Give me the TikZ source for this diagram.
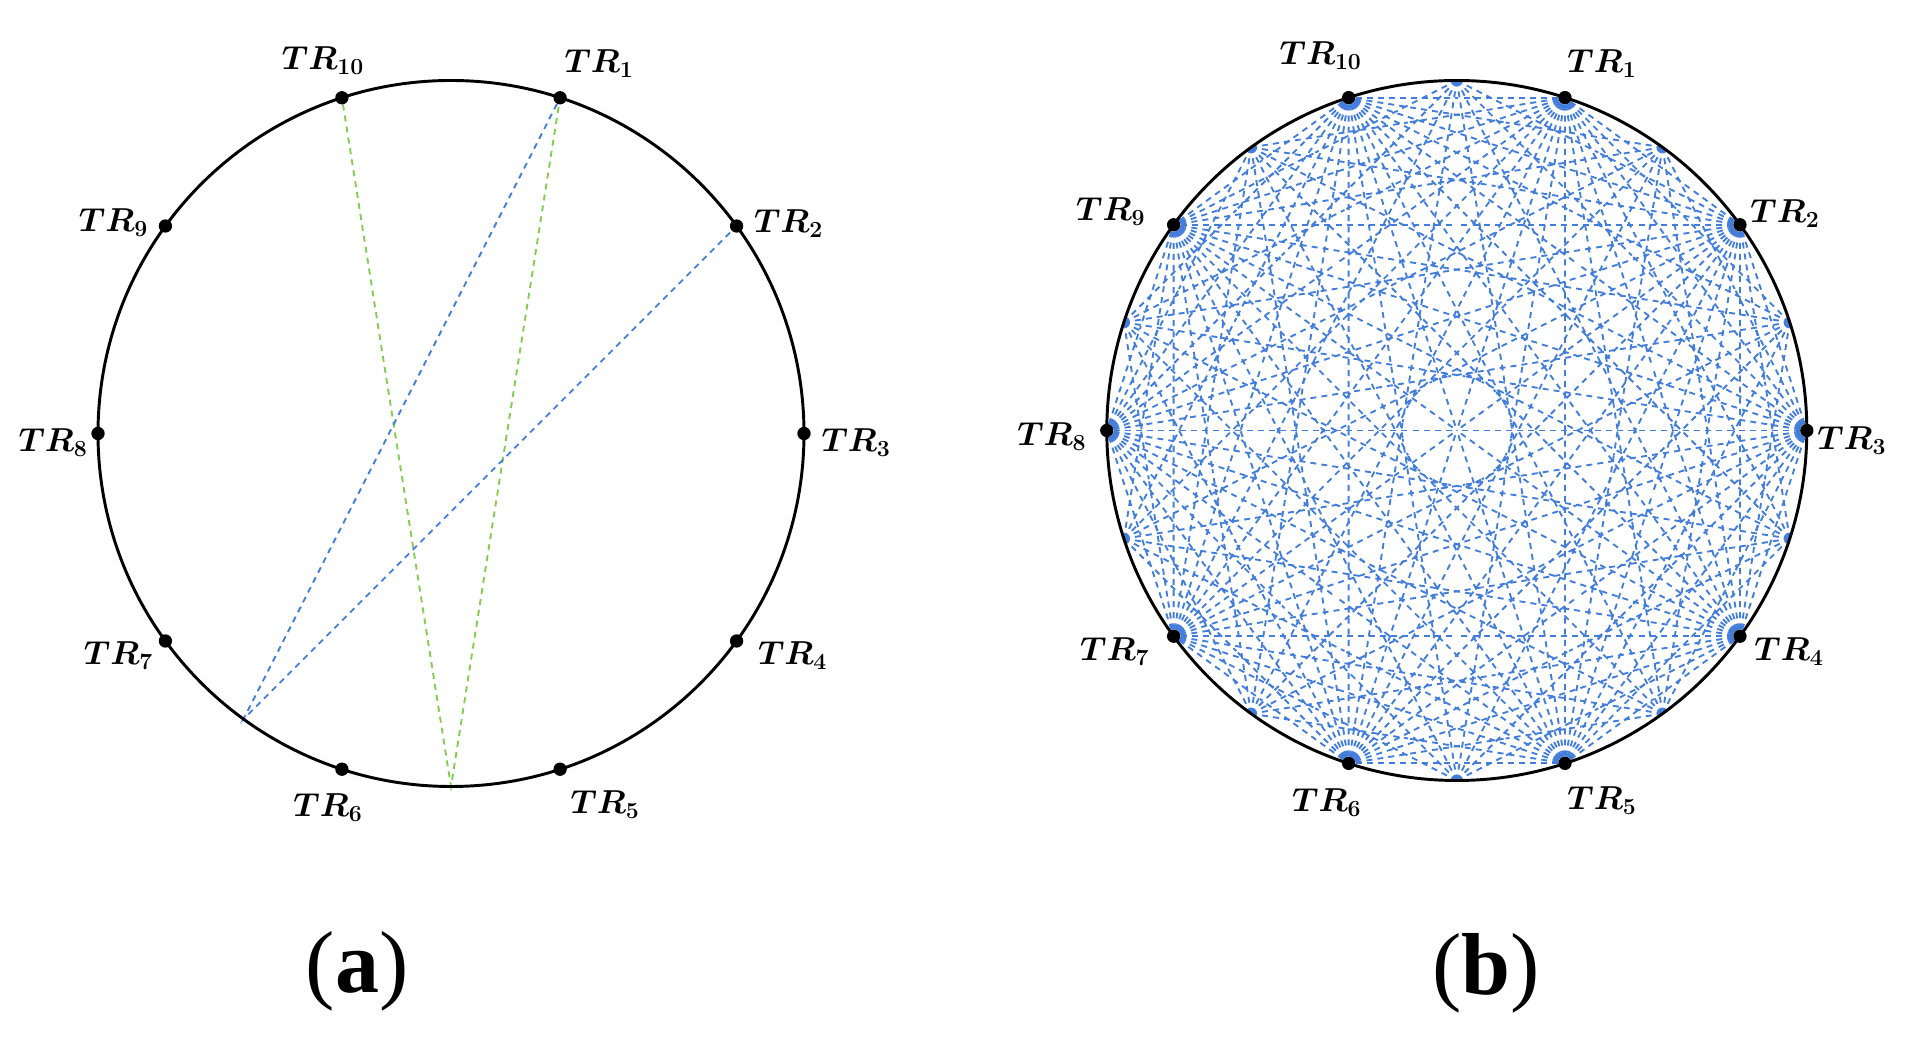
\documentclass[tikz,border=0pt]{standalone}
\usepackage{amsmath}
\usepackage{fontspec}
\newfontfamily\capfont{Liberation Serif}
\usetikzlibrary{calc}
\definecolor{rayblue}{RGB}{66,125,220}
\definecolor{raygreen}{RGB}{130,205,80}
\pgfdeclarelayer{bg}
\pgfsetlayers{bg,main}
\begin{document}
\begin{tikzpicture}[x=0.75pt,y=0.75pt,
  trdot/.style={circle,fill=black,inner sep=0pt,minimum size=10pt},
  wall/.style={line width=2.2pt},
  ray/.style={dash pattern=on 4.5pt off 3.8pt,line width=1.4pt},
  trlabel/.style={font=\fontsize{26}{31}\selectfont,inner sep=0pt},
  panel/.style={font=\capfont\fontsize{66}{70}\selectfont,inner sep=0pt,anchor=base}]
\path[use as bounding box] (0,0) rectangle (1917,1041);

% ---------- panel (a) ----------
\begin{scope}[shift={(451,607.5)}]
  \draw[wall] (0,0) circle[radius=353];
  \foreach \n in {1,...,10}{
    \node[trdot] (a\n) at ({108-36*\n}:353) {};
  }
  \coordinate (pa) at (-90:353);
  \coordinate (pb) at (-126:353);
\end{scope}
\node[trlabel] (la1)  at ($(a1)+(39,34)$)   {$\boldsymbol{TR_{1}}$};
\node[trlabel] (la2)  at ($(a2)+(52,2)$)    {$\boldsymbol{TR_{2}}$};
\node[trlabel] (la3)  at ($(a3)+(52,-9)$)   {$\boldsymbol{TR_{3}}$};
\node[trlabel] (la4)  at ($(a4)+(56,-15)$)  {$\boldsymbol{TR_{4}}$};
\node[trlabel] (la5)  at ($(a5)+(45,-35)$)  {$\boldsymbol{TR_{5}}$};
\node[trlabel] (la6)  at ($(a6)+(-14,-38)$) {$\boldsymbol{TR_{6}}$};
\node[trlabel] (la7)  at ($(a7)+(-47,-15)$) {$\boldsymbol{TR_{7}}$};
\node[trlabel] (la8)  at ($(a8)+(-45,-9)$)  {$\boldsymbol{TR_{8}}$};
\node[trlabel] (la9)  at ($(a9)+(-52,3)$)   {$\boldsymbol{TR_{9}}$};
\node[trlabel] (la10) at ($(a10)+(-19,37)$) {$\boldsymbol{TR_{10}}$};
\begin{pgfonlayer}{bg}
  \draw[ray,raygreen] (a10) -- (pa) -- (a1);
  \draw[ray,rayblue] (a1) -- (pb) -- (a2);
\end{pgfonlayer}

% ---------- panel (b) ----------
\begin{scope}[shift={(1456.8,610.5)}]
  \draw[wall] (0,0) circle[radius=350];
  \foreach \n in {1,...,10}{
    \node[trdot] (b\n) at ({108-36*\n}:350) {};
    \coordinate (m\n) at ({90-36*\n}:350);
  }
\end{scope}
\node[trlabel] (lb1)  at ($(b1)+(37,34)$)   {$\boldsymbol{TR_{1}}$};
\node[trlabel] (lb2)  at ($(b2)+(45,11)$)   {$\boldsymbol{TR_{2}}$};
\node[trlabel] (lb3)  at ($(b3)+(45,-10)$)  {$\boldsymbol{TR_{3}}$};
\node[trlabel] (lb4)  at ($(b4)+(49,-15)$)  {$\boldsymbol{TR_{4}}$};
\node[trlabel] (lb5)  at ($(b5)+(37,-37)$)  {$\boldsymbol{TR_{5}}$};
\node[trlabel] (lb6)  at ($(b6)+(-22,-39)$) {$\boldsymbol{TR_{6}}$};
\node[trlabel] (lb7)  at ($(b7)+(-59,-15)$) {$\boldsymbol{TR_{7}}$};
\node[trlabel] (lb8)  at ($(b8)+(-55,-6)$)  {$\boldsymbol{TR_{8}}$};
\node[trlabel] (lb9)  at ($(b9)+(-63,13)$)  {$\boldsymbol{TR_{9}}$};
\node[trlabel] (lb10) at ($(b10)+(-28,42)$) {$\boldsymbol{TR_{10}}$};
\begin{pgfonlayer}{bg}
  \foreach \n in {1,...,10}{
    \pgfmathtruncatemacro\prev{mod(\n+8,10)+1}
    \foreach \k in {1,...,10}{
      % direct paths between transceivers, drawn from both ends
      \ifnum\k>\n
        \draw[ray,rayblue] (b\n) -- ($(b\n)!0.5!(b\k)$);
        \draw[ray,rayblue] (b\k) -- ($(b\n)!0.5!(b\k)$);
      \fi
      % paths to the wall reflection points
      \ifnum\k=\n \else \ifnum\k=\prev \else
        \draw[ray,rayblue] (b\n) -- ($(b\n)!0.5!(m\k)$);
        \draw[ray,rayblue] (m\k) -- ($(b\n)!0.5!(m\k)$);
      \fi\fi
    }
  }
\end{pgfonlayer}

% ---------- captions ----------
\node[panel] (capa) at (357,48) {(\textbf{a})};
\node[panel] (capb) at (1486,46) {(\textbf{b})};
\end{tikzpicture}
\end{document}
